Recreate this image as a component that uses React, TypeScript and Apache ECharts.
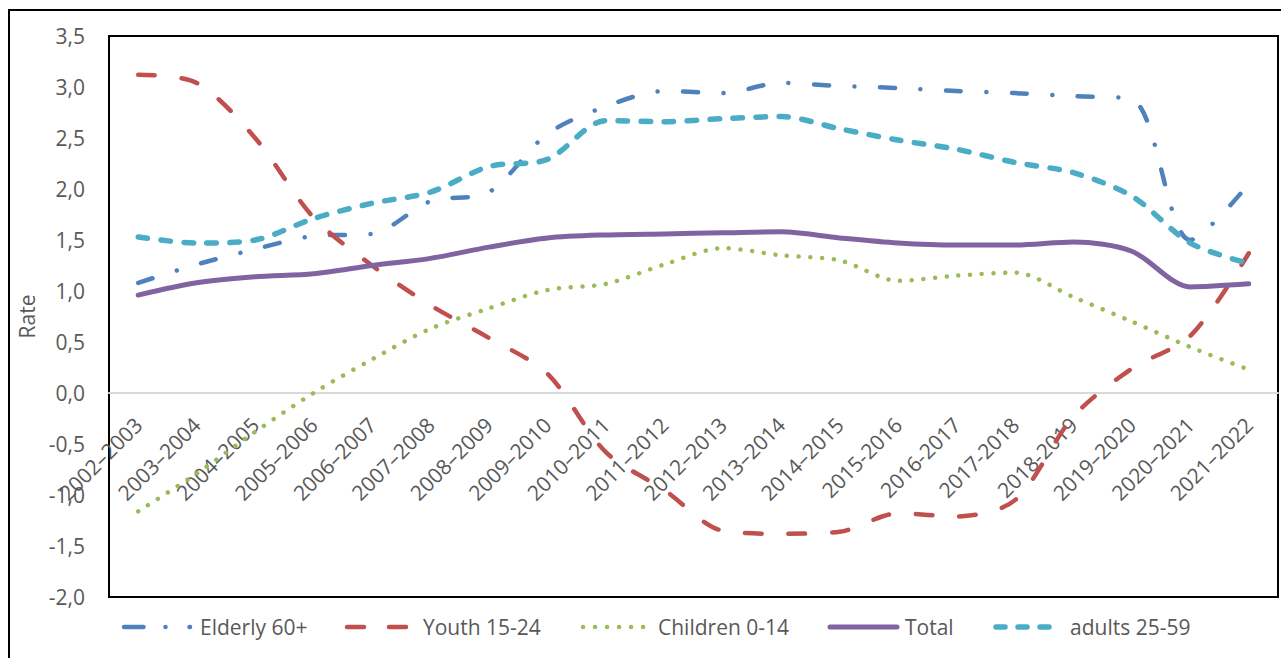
import React, { useEffect, useRef } from "react";
import * as echarts from "echarts";

// Academic years on the category axis
const years = [
  "2002–2003", "2003–2004", "2004–2005", "2005–2006", "2006–2007",
  "2007–2008", "2008–2009", "2009–2010", "2010–2011", "2011–2012",
  "2012–2013", "2013–2014", "2014–2015", "2015-2016", "2016-2017",
  "2017-2018", "2018-2019", "2019–2020", "2020–2021", "2021–2022",
];

// Rates per age group
const elderly = [1.08, 1.26, 1.41, 1.54, 1.56, 1.88, 1.97, 2.54, 2.81, 2.96, 2.94, 3.04, 3.01, 2.99, 2.96, 2.94, 2.91, 2.88, 1.50, 2.05];
const youth = [3.12, 3.04, 2.50, 1.72, 1.25, 0.86, 0.54, 0.19, -0.58, -0.95, -1.35, -1.38, -1.36, -1.18, -1.21, -1.05, -0.23, 0.24, 0.56, 1.37];
const children = [-1.16, -0.79, -0.38, 0.0, 0.33, 0.63, 0.83, 1.01, 1.07, 1.26, 1.42, 1.35, 1.30, 1.10, 1.15, 1.18, 0.94, 0.70, 0.45, 0.23];
const total = [0.96, 1.08, 1.14, 1.17, 1.25, 1.32, 1.43, 1.52, 1.55, 1.56, 1.57, 1.58, 1.52, 1.47, 1.45, 1.45, 1.48, 1.39, 1.04, 1.07];
const adults = [1.53, 1.47, 1.50, 1.71, 1.86, 1.97, 2.22, 2.29, 2.67, 2.66, 2.69, 2.71, 2.59, 2.48, 2.39, 2.26, 2.16, 1.93, 1.47, 1.27];

// Value axis range
const Y_MIN = -2;
const Y_MAX = 3.5;
const Y_STEP = 0.5;

const FONT = "'Open Sans', 'Noto Sans', sans-serif";
const TEXT = "#595959";
const FS = 21;

// Plot area in pixels
const GRID = { left: 109, top: 36, right: 3, bottom: 61 };
const H = 658;

type Style = {
  name: string;
  data: number[];
  color: string;
  width: number;
  dash: number[] | "solid";
  // legend sample: line start/end and text position
  lx0: number;
  lx1: number;
  tx: number;
  ldash: number[] | null;
};

const SERIES: Style[] = [
  { name: "Elderly 60+", data: elderly, color: "#4F81BD", width: 4.5, dash: [15, 25.5, 0.01, 25.5], lx0: 124, lx1: 190, tx: 200, ldash: [19.5, 22, 0.01, 24] },
  { name: "Youth 15-24", data: youth, color: "#C0504D", width: 4.5, dash: [16.5, 27], lx0: 347, lx1: 408, tx: 423, ldash: [17, 25] },
  { name: "Children 0-14", data: children, color: "#9BBB59", width: 4.5, dash: [0.01, 11.7], lx0: 583, lx1: 644, tx: 658, ldash: [0.01, 12] },
  { name: "Total", data: total, color: "#8064A2", width: 5, dash: "solid", lx0: 830, lx1: 897, tx: 905, ldash: null },
  { name: "adults 25-59", data: adults, color: "#4BACC6", width: 5.5, dash: [9.5, 13.5], lx0: 996, lx1: 1055, tx: 1070, ldash: [9, 13] },
];

export default function App() {
  const ref = useRef<HTMLDivElement>(null);

  useEffect(() => {
    if (!ref.current) return;
    const chart = echarts.init(ref.current, undefined, { renderer: "svg" });

    const plotH = H - GRID.top - GRID.bottom;
    // distance from the bottom of the plot up to the zero line
    const zeroOffset = (plotH * (0 - Y_MIN)) / (Y_MAX - Y_MIN);

    const legendY = 627;
    const legendGraphics: any[] = [];
    SERIES.forEach((s) => {
      legendGraphics.push({
        type: "line",
        silent: true,
        shape: { x1: s.lx0, y1: legendY, x2: s.lx1, y2: legendY },
        style: {
          stroke: s.color,
          lineWidth: s.width,
          lineCap: "round",
          lineDash: s.ldash || undefined,
        },
      });
      legendGraphics.push({
        type: "text",
        silent: true,
        x: s.tx,
        y: legendY,
        style: {
          text: s.name,
          fill: TEXT,
          fontSize: FS,
          fontFamily: FONT,
          verticalAlign: "middle",
        },
      });
    });

    chart.setOption({
      animation: false,
      textStyle: { fontFamily: FONT },
      grid: {
        ...GRID,
        show: true,
        borderColor: "#000",
        borderWidth: 2,
        backgroundColor: "transparent",
        containLabel: false,
        outerBoundsMode: "none",
      },
      xAxis: {
        type: "category",
        data: years,
        boundaryGap: true,
        position: "bottom",
        offset: -zeroOffset,
        axisLine: { onZero: false, lineStyle: { color: "#D9D9D9", width: 2 } },
        axisTick: { show: false },
        splitLine: { show: false },
        axisLabel: {
          interval: 0,
          rotate: 45,
          margin: 28,
          fontSize: FS,
          color: TEXT,
          fontFamily: FONT,
          hideOverlap: false,
        },
      },
      yAxis: {
        type: "value",
        min: Y_MIN,
        max: Y_MAX,
        interval: Y_STEP,
        name: "Rate",
        nameLocation: "middle",
        nameGap: 66,
        nameTextStyle: { fontSize: FS, color: TEXT, fontFamily: FONT },
        axisLine: { show: false },
        axisTick: { show: false },
        splitLine: { show: false },
        axisLabel: {
          fontSize: FS,
          color: TEXT,
          fontFamily: FONT,
          margin: 24,
          formatter: (v: number) => v.toFixed(1).replace(".", ","),
        },
      },
      graphic: [
        {
          type: "polyline",
          silent: true,
          shape: { points: [[9, 700], [9, 10], [1300, 10]] },
          style: { stroke: "#000", lineWidth: 2, fill: null },
        },
        ...legendGraphics,
      ],
      series: SERIES.map((s) => ({
        name: s.name,
        type: "line",
        data: s.data,
        smooth: 0.3,
        symbol: "none",
        showSymbol: false,
        lineStyle: { color: s.color, width: s.width, type: s.dash, cap: "round", join: "round" },
        itemStyle: { color: s.color },
      })),
    });

    return () => chart.dispose();
  }, []);

  return (
    <div
      ref={ref}
      style={{ position: "fixed", left: 0, top: 0, width: 1281, height: H, background: "#fff" }}
    />
  );
}
